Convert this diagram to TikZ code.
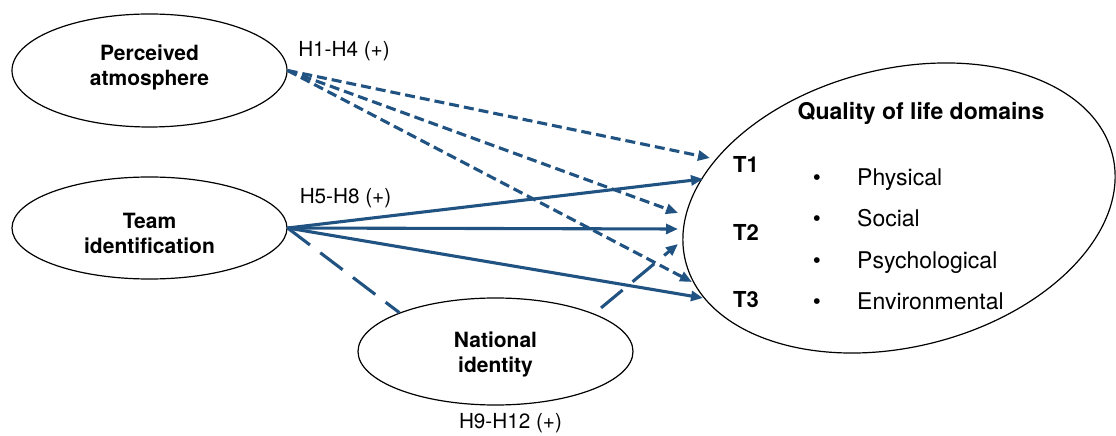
\documentclass[tikz,border=0pt]{standalone}
\usepackage{fontspec}
\setmainfont{TeX Gyre Heros}
\usetikzlibrary{shapes.geometric,arrows.meta}
\definecolor{pathblue}{RGB}{33,83,130}
\begin{document}
\begin{tikzpicture}[x=1pt,y=1pt,
  latent/.style={ellipse, draw=black, line width=1.2pt, inner sep=0pt, minimum width=275pt},
  lbl/.style={font=\fontsize{21}{25}\selectfont\bfseries, align=center, inner sep=0pt},
  hyp/.style={font=\fontsize{20.7}{24}\selectfont, inner sep=0pt, anchor=base},
  qitem/.style={font=\fontsize{23}{26}\selectfont, inner sep=0pt, anchor=base west},
  bul/.style={font=\fontsize{23}{26}\selectfont, inner sep=0pt, anchor=base},
  tlbl/.style={font=\fontsize{22}{25}\selectfont\bfseries, inner sep=0pt, anchor=base west},
  conn/.style={draw=pathblue, line width=3.1pt, -{Triangle[length=12pt,width=10pt]}},
  dashconn/.style={conn, dash pattern=on 10pt off 5pt},
  longdash/.style={draw=pathblue, line width=3.1pt, dash pattern=on 28pt off 13pt},
]
\useasboundingbox (0,0) rectangle (1116,436);

% ellipses
\node[latent, minimum height=113pt] (pa) at (149.5,365.5) {};
\node[latent, minimum height=102pt] (ti) at (149.5,208) {};
\node[latent, minimum height=107pt] (ni) at (495.5,84.5) {};
\node[ellipse, draw=black, line width=1.2pt, inner sep=0pt,
      minimum width=440pt, minimum height=278pt, rotate=14] (ql) at (899,228) {};

% ellipse labels
\node[lbl] (pat) at (149.5,368.5) {Perceived\\atmosphere};
\node[lbl] (tit) at (149.5,203) {Team\\identification};
\node[lbl] (nit) at (495.5,81.4) {National\\identity};

% quality of life content
\node[lbl, font=\fontsize{23}{26}\selectfont\bfseries, anchor=base] (qlt) at (921,316) {Quality of life domains};
\node[tlbl] (t1) at (733,263) {T1};
\node[tlbl] (t2) at (733,195) {T2};
\node[tlbl] (t3) at (733,128) {T3};
\node[bul] (b1) at (817,250) {•};
\node[bul] (b2) at (817,209) {•};
\node[bul] (b3) at (817,167) {•};
\node[bul] (b4) at (817,126) {•};
\node[qitem] (i1) at (857,250) {Physical};
\node[qitem] (i2) at (857,209) {Social};
\node[qitem] (i3) at (857,167) {Psychological};
\node[qitem] (i4) at (857,126) {Environmental};

% hypothesis labels
\node[hyp] (h1) at (344,379) {H1-H4 (+)};
\node[hyp] (h2) at (345.5,232) {H5-H8 (+)};
\node[hyp] (h3) at (510.5,7) {H9-H12 (+)};

% arrow tips
\coordinate (d1) at (710,278);
\coordinate (s1) at (703,257);
\coordinate (d2) at (678,223);
\coordinate (s2) at (678,207);
\coordinate (nt) at (678,192);
\coordinate (d3) at (692,154);
\coordinate (s3) at (703,138);

% connectors
\draw[dashconn] (pa.east) -- (d1);
\draw[dashconn] (pa.east) -- (d2);
\draw[dashconn] (pa.east) -- (d3);
\draw[conn] (ti.east) -- (s1);
\draw[conn] (ti.east) -- (s2);
\draw[conn] (ti.east) -- (s3);
\draw[longdash] (ti.east) -- (ni.158);
\draw[longdash, -{Triangle[length=12pt,width=10pt]}, shorten <=9pt] (ni.21) -- (nt);
\end{tikzpicture}
\end{document}
